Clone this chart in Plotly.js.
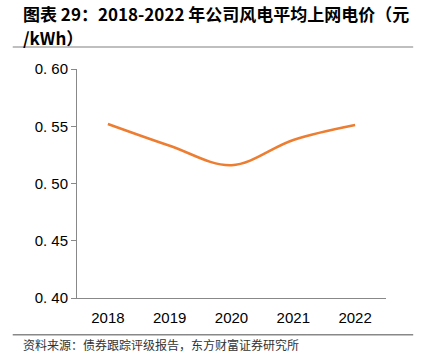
<!DOCTYPE html>
<html><head><meta charset="utf-8">
<script src="https://cdn.plot.ly/plotly-3.0.1.min.js"></script>
<style>html,body{margin:0;padding:0;background:#fff}#c{width:423px;height:361px}</style>
</head><body><div id="c"></div>
<script>
const years = ["2018","2019","2020","2021","2022"];
const price = [0.552, 0.533, 0.516, 0.538, 0.551];
const yTickVals = [0.40, 0.45, 0.50, 0.55, 0.60];
const yTickText = ["0. 40","0. 45","0. 50","0. 55","0. 60"];
const titleLine1 = "图表 29：2018-2022 年公司风电平均上网电价（元";
const titleLine2 = "/kWh）";
const sourceText = "资料来源：债券跟踪评级报告，东方财富证券研究所";

Plotly.newPlot('c', [{
  x: years, y: price, type: 'scatter', mode: 'lines',
  line: {color: '#ED7D31', width: 2.5, shape: 'spline', smoothing: 1},
  hoverinfo: 'none'
}], {
  width: 423, height: 361,
  margin: {l: 77, r: 37, t: 69, b: 63},
  paper_bgcolor: '#fff', plot_bgcolor: '#fff',
  showlegend: false,
  font: {family: 'Liberation Sans, Arial, sans-serif', color: '#000'},
  xaxis: {
    type: 'category', range: [-0.5, 4.5], showgrid: false, zeroline: false,
    showline: true, linecolor: '#888', linewidth: 1, ticks: '',
    ticklabelstandoff: 6,
    tickfont: {size: 15, color: '#000'}, fixedrange: true
  },
  yaxis: {
    range: [0.40, 0.60], tickvals: yTickVals, ticktext: yTickText,
    showgrid: false, zeroline: false, showline: true, linecolor: '#888', linewidth: 1,
    ticks: 'outside', ticklen: 5, tickcolor: '#888',
    tickfont: {size: 15, color: '#000'}, fixedrange: true
  },
  annotations: [
    {text: '<b>' + titleLine1 + '</b>', xref: 'paper', yref: 'paper', x: -0.182, y: 1.2445,
     xanchor: 'left', yanchor: 'middle', align: 'left', showarrow: false,
     font: {family: 'Noto Sans CJK SC, sans-serif', size: 17, color: '#000'}},
    {text: '<b>' + titleLine2 + '</b>', xref: 'paper', yref: 'paper', x: -0.182, y: 1.1354,
     xanchor: 'left', yanchor: 'middle', align: 'left', showarrow: false,
     font: {family: 'Noto Sans CJK SC, sans-serif', size: 17, color: '#000'}},
    {text: sourceText, xref: 'paper', yref: 'paper', x: -0.182, y: -0.205,
     xanchor: 'left', yanchor: 'middle', align: 'left', showarrow: false,
     font: {family: 'Noto Sans CJK SC, sans-serif', size: 12, color: '#333'}}
  ],
  shapes: [
    {type: 'line', xref: 'paper', yref: 'paper', x0: -0.208, x1: 1.088, y0: 1.096, y1: 1.096, line: {color: '#aaa', width: 1.5}},
    {type: 'line', xref: 'paper', yref: 'paper', x0: -0.208, x1: 1.088, y0: -0.161, y1: -0.161, line: {color: '#888', width: 1.5}}
  ]
}, {staticPlot: true});
</script></body></html>
